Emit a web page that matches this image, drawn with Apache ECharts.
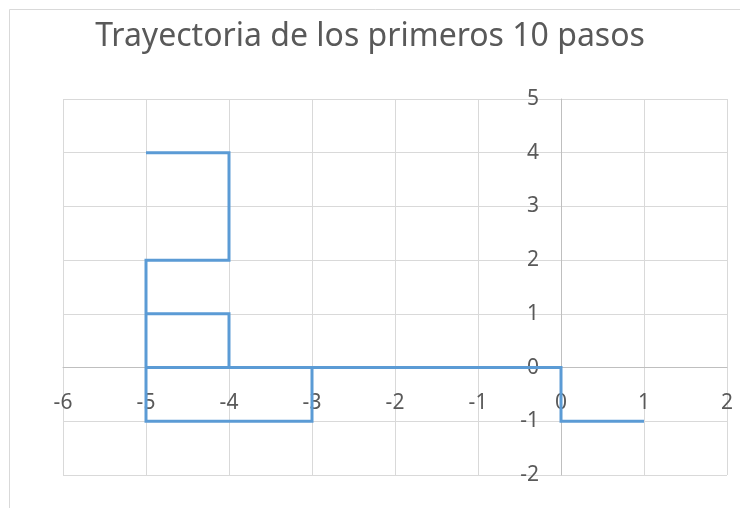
<!DOCTYPE html>
<html>
<head>
<meta charset="utf-8">
<script src="https://cdn.jsdelivr.net/npm/echarts@6/dist/echarts.min.js"></script>
<style>
  html, body { margin: 0; padding: 0; background: #fff; }
  #main { width: 740px; height: 508px; }
</style>
</head>
<body>
<div id="main"></div>
<script>
// recorrido de los 10 pasos (x, y)
const pasosX = [1, 0, 0, -5, -5, -3, -3, -4, -4, -5, -5, -5, -4, -4, -5];
const pasosY = [-1, -1, 0, 0, -1, -1, 0, 0, 1, 1, 0, 2, 2, 4, 4];
const titulo = 'Trayectoria de los primeros 10 pasos';
const xMin = -6, xMax = 2;
const yMin = -2, yMax = 5;

const puntos = pasosX.map((x, i) => [x, pasosY[i]]);

const grid = { left: 63, right: 13, top: 99, bottom: 33 };
const W = 740, H = 508;
const plotW = W - grid.left - grid.right;
const plotH = H - grid.top - grid.bottom;
// los ejes se cruzan en el 0, con las etiquetas pegadas a ellos
const offX = -plotH * (0 - yMin) / (yMax - yMin);
const offY = -plotW * (0 - xMin) / (xMax - xMin);

const chart = echarts.init(document.getElementById('main'));
const fuente = '"Noto Sans", "Open Sans", sans-serif';

chart.setOption({
    animation: false,
    backgroundColor: '#fff',
    title: {
        text: titulo,
        left: 'center',
        top: 16,
        textStyle: { fontFamily: fuente, fontSize: 32, fontWeight: 'normal', color: '#595959' }
    },
    graphic: [{
        type: 'rect',
        shape: { x: 9.5, y: 9.5, width: 800, height: 600 },
        style: { fill: 'none', stroke: '#d9d9d9', lineWidth: 1 },
        silent: true
    }],
    grid: grid,
    xAxis: {
        type: 'value',
        position: 'bottom',
        offset: offX,
        min: xMin,
        max: xMax,
        interval: 1,
        axisLine: { onZero: false, lineStyle: { color: '#bfbfbf', width: 1 } },
        axisTick: { show: false },
        axisLabel: { margin: 25, fontFamily: fuente, fontSize: 21, color: '#595959' },
        splitLine: { show: true, lineStyle: { color: '#d9d9d9', width: 1 } }
    },
    yAxis: {
        type: 'value',
        position: 'left',
        offset: offY,
        min: yMin,
        max: yMax,
        interval: 1,
        axisLine: { show: true, onZero: false, lineStyle: { color: '#bfbfbf', width: 1 } },
        axisTick: { show: false },
        axisLabel: { margin: 22, fontFamily: fuente, fontSize: 21, color: '#595959' },
        splitLine: { show: true, lineStyle: { color: '#d9d9d9', width: 1 } }
    },
    series: [{
        type: 'line',
        data: puntos,
        showSymbol: false,
        symbol: 'none',
        lineStyle: { color: '#5b9bd5', width: 3, join: 'miter', cap: 'butt' },
        z: 3
    }]
});
</script>
</body>
</html>
